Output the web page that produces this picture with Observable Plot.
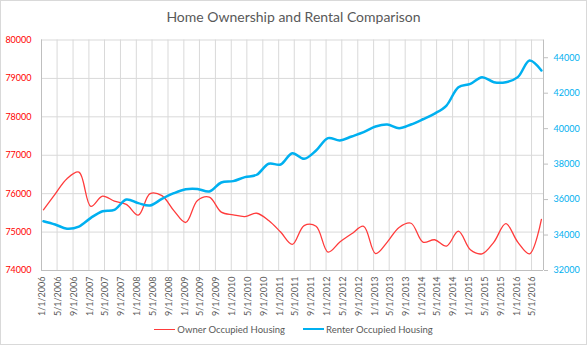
<!DOCTYPE html>
<html>
<head>
<meta charset="utf-8">
<script src="https://cdn.jsdelivr.net/npm/d3@7"></script>
<script src="https://cdn.jsdelivr.net/npm/@observablehq/plot@0.6"></script>
<style>
  html, body { margin: 0; padding: 0; background: #fff; }
  body { position: relative; width: 587px; height: 345px; overflow: hidden; font-family: Lato, "Open Sans", sans-serif; }
  #frame { position: absolute; left: 0; top: 0; width: 587px; height: 345px; box-sizing: border-box; border: 1px solid #d9d9d9; pointer-events: none; }
  #title { position: absolute; left: 0; top: 0; width: 587px; height: 30px; line-height: 34px; text-align: center; font-size: 14px; color: #595959; }
  #chart { position: absolute; left: 0; top: 30px; }
  #legend { position: absolute; left: 0; top: 321px; width: 587px; height: 16px; display: flex; justify-content: center; align-items: center; font-size: 9.5px; color: #595959; }
  .item { display: flex; align-items: center; margin: 0 9px; }
  .swatch { width: 21px; height: 0; margin-right: 2px; }
</style>
</head>
<body>
<div id="title">Home Ownership and Rental Comparison</div>
<div id="chart"></div>
<div id="legend"></div>
<div id="frame"></div>
<script>
// Quarter start dates (categories)
const quarters = [
  "2006-01-01","2006-04-01","2006-07-01","2006-10-01",
  "2007-01-01","2007-04-01","2007-07-01","2007-10-01",
  "2008-01-01","2008-04-01","2008-07-01","2008-10-01",
  "2009-01-01","2009-04-01","2009-07-01","2009-10-01",
  "2010-01-01","2010-04-01","2010-07-01","2010-10-01",
  "2011-01-01","2011-04-01","2011-07-01","2011-10-01",
  "2012-01-01","2012-04-01","2012-07-01","2012-10-01",
  "2013-01-01","2013-04-01","2013-07-01","2013-10-01",
  "2014-01-01","2014-04-01","2014-07-01","2014-10-01",
  "2015-01-01","2015-04-01","2015-07-01","2015-10-01",
  "2016-01-01","2016-04-01","2016-07-01"
];

// Owner Occupied Housing (left axis)
const ownerOccupied = [
  75580, 75990, 76390, 76560,
  75670, 75935, 75805, 75720,
  75440, 76000, 75950, 75560,
  75250, 75820, 75910, 75520,
  75450, 75405, 75490, 75300,
  75000, 74680, 75170, 75150,
  74480, 74740, 74955, 75150,
  74440, 74740, 75120, 75230,
  74740, 74800, 74635, 75025,
  74540, 74435, 74740, 75220,
  74740, 74435, 75330
];

// Renter Occupied Housing (right axis)
const renterOccupied = [
  34780, 34595, 34360, 34480,
  34970, 35345, 35420, 36005,
  35800, 35665, 36040, 36360,
  36585, 36600, 36455, 36965,
  37040, 37265, 37400, 38020,
  37980, 38615, 38300, 38770,
  39465, 39335, 39560, 39800,
  40120, 40235, 40025, 40235,
  40530, 40850, 41305, 42340,
  42530, 42905, 42620, 42620,
  42905, 43845, 43280
];

// Axis ticks
const leftTicks = [74000, 75000, 76000, 77000, 78000, 79000, 80000];
const rightTicks = [32000, 34000, 36000, 38000, 40000, 42000, 44000];
const leftDomain = [74000, 80000];
const rightDomain = [32000, 45000];
const xTickLabels = [
  "1/1/2006","5/1/2006","9/1/2006","1/1/2007","5/1/2007","9/1/2007",
  "1/1/2008","5/1/2008","9/1/2008","1/1/2009","5/1/2009","9/1/2009",
  "1/1/2010","5/1/2010","9/1/2010","1/1/2011","5/1/2011","9/1/2011",
  "1/1/2012","5/1/2012","9/1/2012","1/1/2013","5/1/2013","9/1/2013",
  "1/1/2014","5/1/2014","9/1/2014","1/1/2015","5/1/2015","9/1/2015",
  "1/1/2016","5/1/2016"
];
const xDomain = ["2006-01-01", "2016-08-01"];

const seriesNames = ["Owner Occupied Housing", "Renter Occupied Housing"];
const seriesColors = ["#ff3b3b", "#00b0f0"];

// map right-axis values into the left-axis value space (dual axis)
const toLeft = v => leftDomain[0] + (v - rightDomain[0]) * (leftDomain[1] - leftDomain[0]) / (rightDomain[1] - rightDomain[0]);
const fromLeft = v => rightDomain[0] + (v - leftDomain[0]) * (rightDomain[1] - rightDomain[0]) / (leftDomain[1] - leftDomain[0]);

const parseMDY = s => { const [m, d, y] = s.split("/").map(Number); return new Date(Date.UTC(y, m - 1, d)); };
const tickDates = xTickLabels.map(parseMDY);
const labelByTime = new Map(tickDates.map((d, i) => [+d, xTickLabels[i]]));

// Excel date axis places each point in the middle of its month
const data = quarters.map((q, i) => ({
  date: d3.utcDay.offset(new Date(q), 15),
  owner: ownerOccupied[i],
  renter: renterOccupied[i]
}));

const gridColor = "#d9d9d9";
const axisColor = "#bfbfbf";

const chart = Plot.plot({
  width: 587,
  height: 290,
  marginLeft: 41,
  marginRight: 44,
  marginTop: 9.5,
  marginBottom: 50,
  style: { fontFamily: "Lato, 'Open Sans', sans-serif", fontSize: "9px", background: "transparent", overflow: "visible" },
  x: { type: "utc", domain: xDomain.map(s => new Date(s)) },
  y: { domain: leftDomain },
  marks: [
    Plot.gridY(leftTicks, { stroke: gridColor, strokeOpacity: 1 }),
    Plot.gridX(tickDates, { stroke: gridColor, strokeOpacity: 1 }),
    Plot.ruleX([new Date(xDomain[0])], { stroke: axisColor }),
    Plot.ruleX([new Date(xDomain[1])], { stroke: axisColor }),
    Plot.ruleY([leftDomain[0]], { stroke: axisColor }),
    Plot.axisY(leftTicks, { anchor: "left", tickSize: 0, tickPadding: 10, color: "#ff0000", tickFormat: d => String(d), label: null }),
    Plot.axisY(rightTicks.map(toLeft), { anchor: "right", tickSize: 4, tickFormat: () => "", color: axisColor, label: null }),
    Plot.axisY(rightTicks.map(toLeft), { anchor: "right", tickSize: 0, tickPadding: 10, color: "#00b0f0", tickFormat: d => String(Math.round(fromLeft(d))), label: null }),
    Plot.axisX(tickDates, { anchor: "bottom", tickSize: 0, tickPadding: 6, tickRotate: -90, dx: 1, color: "#595959", tickFormat: d => labelByTime.get(+d), label: null }),
    Plot.lineY(data, { x: "date", y: "owner", stroke: seriesColors[0], strokeWidth: 1.3, curve: "catmull-rom" }),
    Plot.lineY(data, { x: "date", y: d => toLeft(d.renter), stroke: seriesColors[1], strokeWidth: 2.5, curve: "catmull-rom" })
  ]
});
document.getElementById("chart").appendChild(chart);

const legend = document.getElementById("legend");
seriesNames.forEach((name, i) => {
  const item = document.createElement("div");
  item.className = "item";
  const sw = document.createElement("span");
  sw.className = "swatch";
  sw.style.borderTop = `${i === 0 ? 1.5 : 2.5}px solid ${seriesColors[i]}`;
  const label = document.createElement("span");
  label.textContent = name;
  item.appendChild(sw);
  item.appendChild(label);
  legend.appendChild(item);
});
</script>
</body>
</html>
